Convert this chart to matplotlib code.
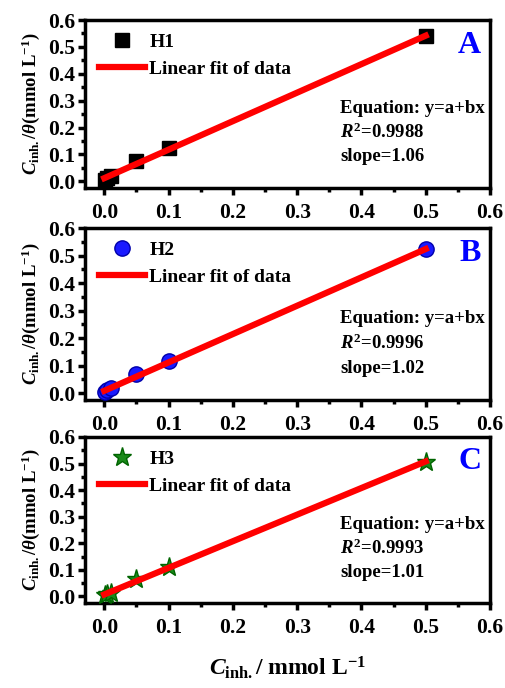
import matplotlib
matplotlib.use("Agg")
import matplotlib.pyplot as plt
from matplotlib.ticker import MultipleLocator, FormatStrFormatter
import numpy as np

plt.rcParams['font.family'] = 'Liberation Serif'
plt.rcParams['font.weight'] = 'bold'
plt.rcParams['mathtext.fontset'] = 'custom'
plt.rcParams['mathtext.rm'] = 'Liberation Serif:bold'
plt.rcParams['mathtext.bf'] = 'Liberation Serif:bold'
plt.rcParams['mathtext.it'] = 'Liberation Serif:italic:bold'

conc = [0.001, 0.005, 0.01, 0.05, 0.1, 0.5]
h1 = [0.006, 0.013, 0.02, 0.075, 0.122, 0.54]
h2 = [0.003, 0.01, 0.018, 0.068, 0.116, 0.522]
h3 = [0.005, 0.01, 0.014, 0.064, 0.11, 0.507]

names = ["H1", "H2", "H3"]
letters = ["A", "B", "C"]
r2 = ["0.9988", "0.9996", "0.9993"]
slopes = ["1.06", "1.02", "1.01"]

fig = plt.figure(figsize=(5.06, 6.88), dpi=100)

# axes boxes in pixels: left, top, right, bottom
boxes = [(85, 20, 490, 188), (85, 228, 490, 400), (85, 437, 490, 603)]
W, H = 506, 688

series = [h1, h2, h3]
for i, (l, t, r, b) in enumerate(boxes):
    ax = fig.add_axes([l / W, 1 - b / H, (r - l) / W, (b - t) / H])
    y = series[i]
    if i == 0:
        ax.plot(conc, y, 's', color='black', ms=10, label=names[i], zorder=3)
    elif i == 1:
        ax.plot(conc, y, 'o', color='#1a1aff', mec='#0000aa', ms=11, label=names[i], zorder=3)
    else:
        ax.plot(conc, y, '*', color='#1a8a1a', mec='#006400', ms=14, label=names[i], zorder=3)

    b_fit, a_fit = np.polyfit(conc, y, 1)
    xf = np.array([0.0, 0.5])
    ax.plot(xf, a_fit + b_fit * xf, '-', color='red', lw=4.5, label='Linear fit of data', zorder=4)

    ax.set_xlim(-0.03, 0.6)
    ax.set_ylim(-0.025, 0.6)
    ax.xaxis.set_major_locator(MultipleLocator(0.1))
    ax.xaxis.set_minor_locator(MultipleLocator(0.05))
    ax.yaxis.set_major_locator(MultipleLocator(0.1))
    ax.yaxis.set_minor_locator(MultipleLocator(0.05))
    ax.xaxis.set_major_formatter(FormatStrFormatter('%.1f'))
    ax.yaxis.set_major_formatter(FormatStrFormatter('%.1f'))
    ax.tick_params(which='major', direction='out', length=5, width=2.5, labelsize=15.5)
    ax.tick_params(axis='x', which='major', pad=6)
    ax.tick_params(axis='y', which='major', pad=2)
    ax.tick_params(which='minor', direction='out', length=3, width=2.5)
    for s in ax.spines.values():
        s.set_linewidth(2.5)

    ax.legend(loc='upper left', frameon=False, handlelength=2.4,
              borderaxespad=0.3, handletextpad=0.2, labelspacing=0.45,
              prop={'size': 14, 'weight': 'bold'})
    ax.text(0.95, 0.85, letters[i], transform=ax.transAxes, color='#0000ff',
            fontsize=23, fontweight='bold', ha='center', va='center')
    ax.text(0.63, 0.475, 'Equation: y=a+bx', transform=ax.transAxes, fontsize=13.5,
            fontweight='bold', va='center')
    ax.text(0.63, 0.33, r'$\mathit{R}^{2}$=' + r2[i], transform=ax.transAxes, fontsize=13.5,
            fontweight='bold', va='center')
    ax.text(0.63, 0.185, 'slope=' + slopes[i], transform=ax.transAxes, fontsize=13.5,
            fontweight='bold', va='center')
    ax.set_ylabel(r'$\mathit{C}_{\mathbf{inh.}}/\mathit{\theta}$(mmol L$^{-1}$)', fontsize=13.5,
                  fontweight='bold', labelpad=4)
    if i == 2:
        ax.set_xlabel(r'$\mathit{C}_{\mathbf{inh.}}$/ mmol L$^{-1}$', fontsize=17,
                      fontweight='bold', labelpad=12)

fig.savefig('out.png', dpi=100)
